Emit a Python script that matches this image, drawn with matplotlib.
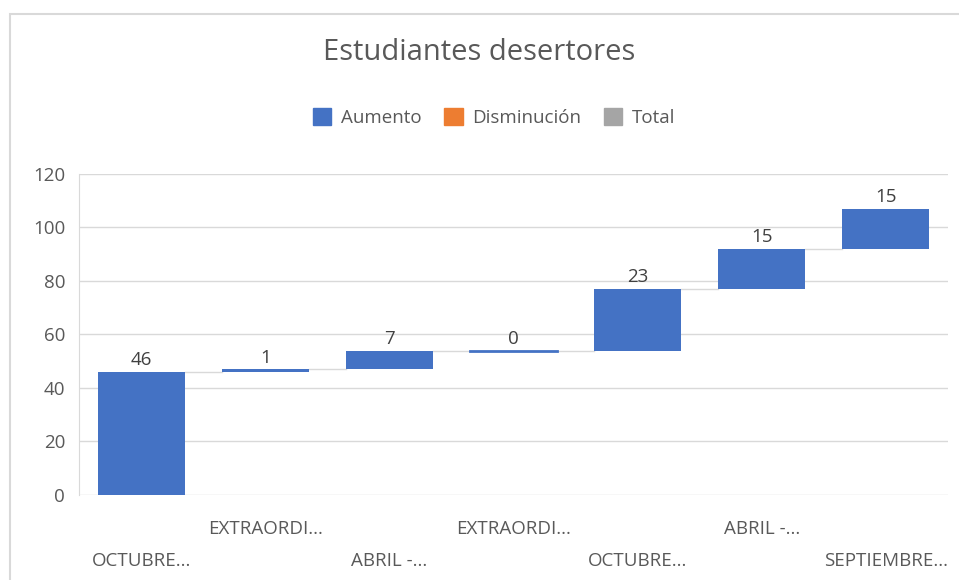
import numpy as np
import matplotlib.pyplot as plt
from matplotlib.patches import Patch, Rectangle

# Waterfall data ------------------------------------------------------------------------------- data

categorias = ['OCTUBRE...', 'EXTRAORDI...', 'ABRIL -...', 'EXTRAORDI...',
              'OCTUBRE...', 'ABRIL -...', 'SEPTIEMBRE...']
valores = [46, 1, 7, 0, 23, 15, 15]
y_ticks = [0, 20, 40, 60, 80, 100, 120]

AZUL = '#4472C4'
NARANJA = '#ED7D31'
GRIS = '#A5A5A5'
TEXTO = '#595959'
REJILLA = '#D9D9D9'

plt.rcParams['font.family'] = ['Open Sans', 'DejaVu Sans']

# cumulative bases
fin = np.cumsum(valores)
inicio = fin - np.array(valores)
x = np.arange(len(valores))
ancho = 0.7

fig = plt.figure(figsize=(9.59, 5.8), dpi=100)
ax = fig.add_axes([0.0824, 0.1466, 0.9061, 0.5534])

# outer chart border
fig.patches.append(Rectangle((10 / 959, -0.05), 1.2, (580 - 14) / 580 + 0.05,
                             transform=fig.transFigure, fill=False,
                             edgecolor='#D9D9D9', lw=1.5))

ax.bar(x, valores, bottom=inicio, width=ancho, color=AZUL, zorder=3)
# keep a visible sliver for the zero step
for xi, b, v in zip(x, inicio, valores):
    if v == 0:
        ax.plot([xi - ancho / 2, xi + ancho / 2], [b, b], color=AZUL, lw=2, zorder=3)

# connector lines between bars
for i in range(len(valores) - 1):
    ax.plot([x[i] + ancho / 2, x[i + 1] - ancho / 2], [fin[i], fin[i]],
            color=REJILLA, lw=1, zorder=2)

# value labels
for xi, top, v in zip(x, fin, valores):
    ax.text(xi, top + 1.0, str(v), ha='center', va='bottom',
            fontsize=13.5, color='#404040', zorder=4)

ax.set_xlim(-0.5, len(valores) - 0.5)
ax.set_ylim(0, 120)
ax.set_yticks(y_ticks)
ax.yaxis.grid(True, color=REJILLA, lw=1, zorder=0)
ax.set_axisbelow(True)
for lado in ['top', 'right', 'bottom']:
    ax.spines[lado].set_visible(False)
ax.spines['left'].set_color(REJILLA)
ax.tick_params(axis='y', length=0, labelsize=13.5, labelcolor=TEXTO, pad=10)
ax.tick_params(axis='x', length=0)
ax.set_xticks([])

# staggered category labels
for i, c in enumerate(categorias):
    y_pos = -0.105 if i % 2 else -0.205
    ax.text(x[i], y_pos, c, transform=ax.get_xaxis_transform(), ha='center',
            va='center', fontsize=13.5, color=TEXTO)

fig.text(0.5, 0.91, 'Estudiantes desertores', ha='center', va='center',
         fontsize=21, color=TEXTO)

handles = [Patch(color=AZUL, label='Aumento'),
           Patch(color=NARANJA, label='Disminución'),
           Patch(color=GRIS, label='Total')]
fig.legend(handles=handles, loc='center', bbox_to_anchor=(0.515, 0.797), ncol=3,
           frameon=False, fontsize=13.5, labelcolor=TEXTO, handlelength=1,
           handleheight=1, handletextpad=0.5, columnspacing=1.2)

fig.savefig('out.png', dpi=100)
